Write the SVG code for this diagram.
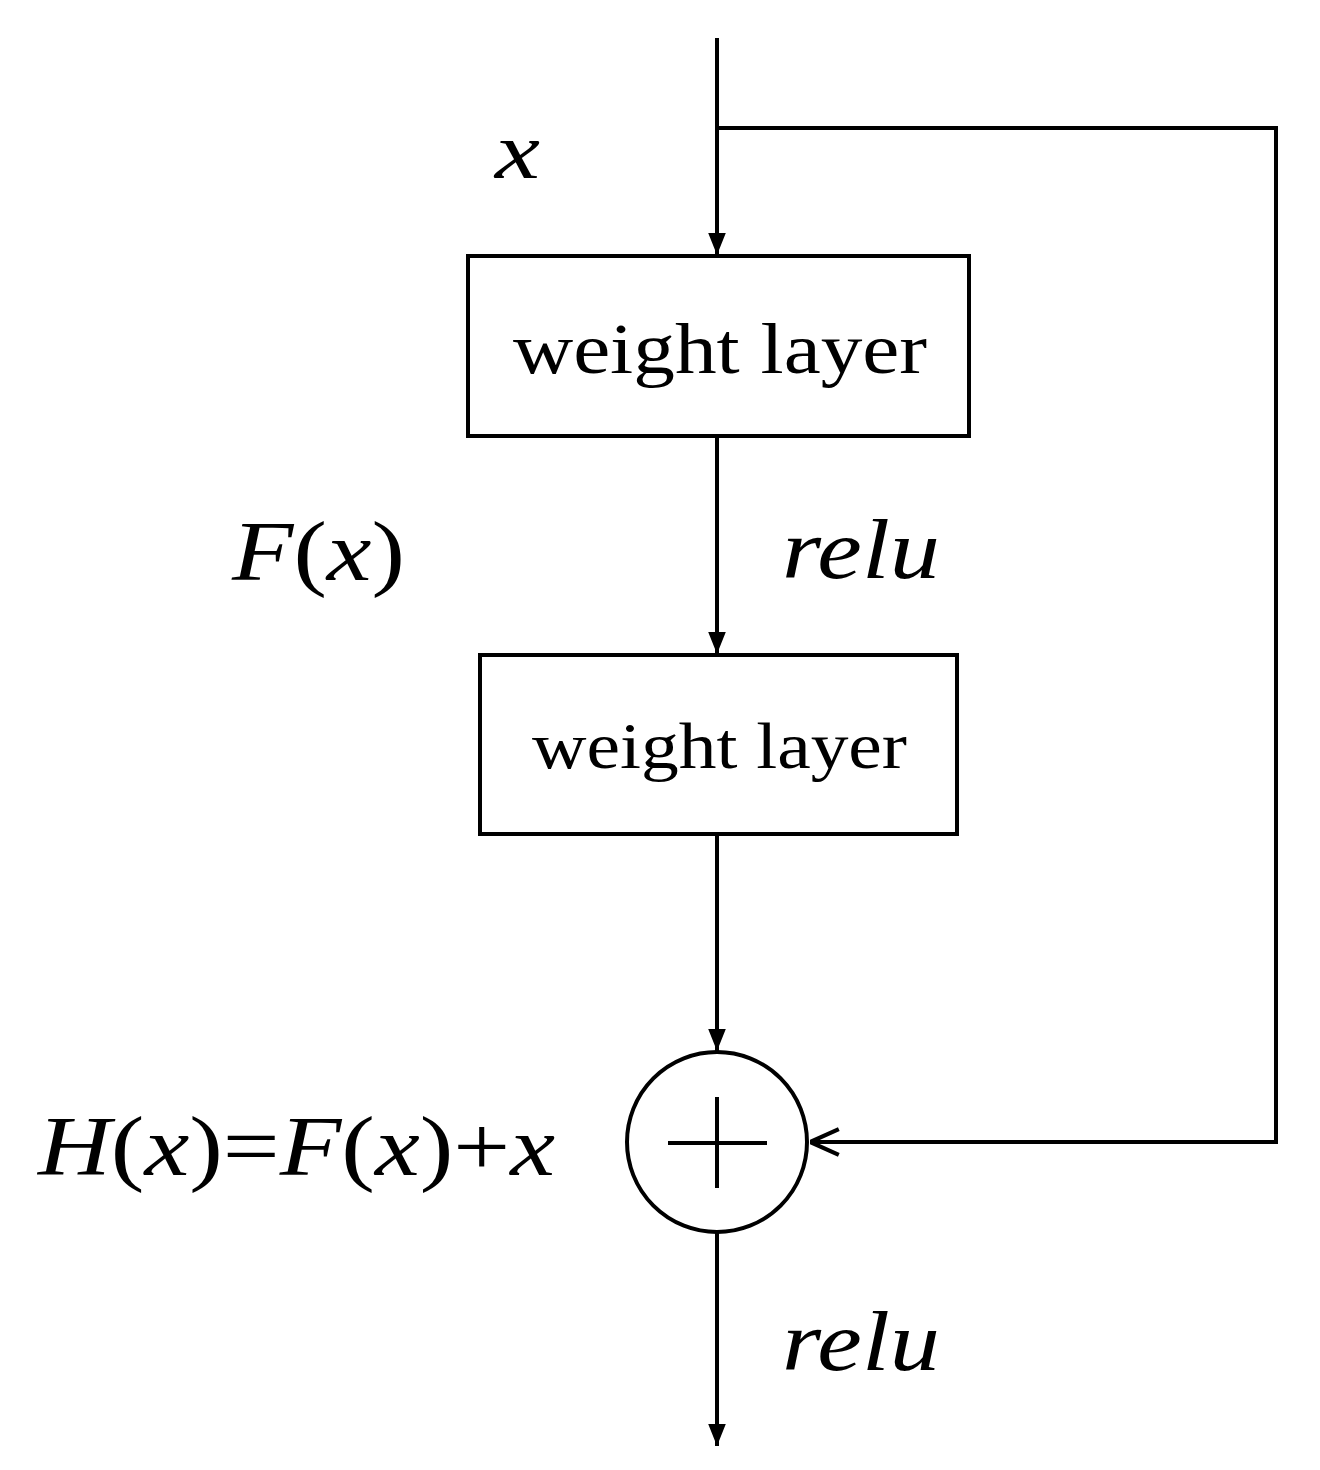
<svg xmlns="http://www.w3.org/2000/svg" width="1320" height="1470" viewBox="0 0 1320 1470">
<style>
.ln{stroke:#000;stroke-width:4;fill:none}
.bx{stroke:#000;stroke-width:4;fill:#fff}
text{font-family:"Liberation Serif","Times New Roman",serif;fill:#000}
.it{font-style:italic}
</style>
<defs>
<marker id="tri" viewBox="0 0 10 10" refX="10" refY="5" markerWidth="22" markerHeight="22" markerUnits="userSpaceOnUse" orient="auto"><path d="M0,1 L10,5 L0,9 Z" fill="#000"/></marker>
<marker id="open" viewBox="0 0 10 10" refX="10" refY="5" markerWidth="32" markerHeight="32" markerUnits="userSpaceOnUse" orient="auto"><path d="M1,1 L10,5 L1,9" fill="none" stroke="#000" stroke-width="1.3"/></marker>
</defs>
<rect width="1320" height="1470" fill="#fff"/>
<g id="connectors">
<line class="ln" x1="717" y1="38" x2="717" y2="255" marker-end="url(#tri)"/>
<line class="ln" x1="717" y1="436" x2="717" y2="654" marker-end="url(#tri)"/>
<line class="ln" x1="717" y1="834" x2="717" y2="1051" marker-end="url(#tri)"/>
<line class="ln" x1="717" y1="1232" x2="717" y2="1446" marker-end="url(#tri)"/>
<polyline class="ln" points="717,128 1276,128 1276,1142 810,1142" marker-end="url(#open)"/>
</g>
<g id="box1"><rect class="bx" x="468" y="256" width="501" height="180"/><text x="513" y="373" font-size="72" textLength="414" lengthAdjust="spacingAndGlyphs">weight layer</text></g>
<g id="box2"><rect class="bx" x="480" y="655" width="477" height="179"/><text x="532" y="768" font-size="66" textLength="375" lengthAdjust="spacingAndGlyphs">weight layer</text></g>
<g id="sum"><circle class="ln" cx="717" cy="1142" r="90"/><line class="ln" x1="668" y1="1143" x2="767" y2="1143"/><line class="ln" x1="717" y1="1097" x2="717" y2="1188"/></g>
<g id="labels">
<text class="it" x="495" y="178" font-size="80" textLength="45" lengthAdjust="spacingAndGlyphs">x</text>
<text x="232" y="580" font-size="84" textLength="173" lengthAdjust="spacingAndGlyphs"><tspan class="it">F</tspan>(<tspan class="it">x</tspan>)</text>
<text class="it" x="782" y="578" font-size="84" textLength="158" lengthAdjust="spacingAndGlyphs">relu</text>
<text x="38" y="1175" font-size="84" textLength="517" lengthAdjust="spacingAndGlyphs"><tspan class="it">H</tspan>(<tspan class="it">x</tspan>)=<tspan class="it">F</tspan>(<tspan class="it">x</tspan>)+<tspan class="it">x</tspan></text>
<text class="it" x="782" y="1370" font-size="84" textLength="158" lengthAdjust="spacingAndGlyphs">relu</text>
</g>
</svg>
